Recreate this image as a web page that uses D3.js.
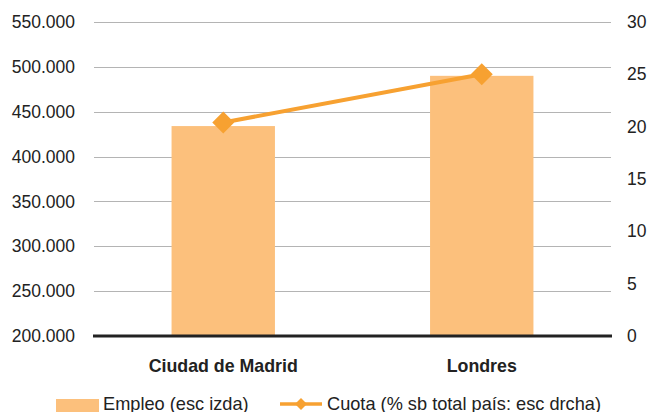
<!DOCTYPE html>
<html>
<head>
<meta charset="utf-8">
<script src="https://cdn.jsdelivr.net/npm/d3@7"></script>
<style>
  html, body { margin: 0; padding: 0; background: #fff; }
  svg { display: block; font-family: "Liberation Sans", Arial, Helvetica, sans-serif; }
</style>
</head>
<body>
<svg id="chart" width="650" height="412"></svg>
<script>
// Employment (left axis) and share of national total (right axis)
const categories = ["Ciudad de Madrid", "Londres"];
const empleo = [434000, 490000];
const cuota = [20.4, 25.0];
const leftTicks = [200000, 250000, 300000, 350000, 400000, 450000, 500000, 550000];
const rightTicks = [0, 5, 10, 15, 20, 25, 30];
const legendLabels = ["Empleo (esc izda)", "Cuota (% sb total país: esc drcha)"];

const barColor = "#fcc07c";
const lineColor = "#f7a131";

const svg = d3.select("#chart");
const margin = { left: 94, right: 611, top: 22, bottom: 336 };

const x = d3.scaleBand()
  .domain(categories)
  .range([margin.left, margin.right])
  .paddingInner(0.6)
  .paddingOuter(0.3);

const yLeft = d3.scaleLinear().domain([200000, 550000]).range([margin.bottom, margin.top]);
const yRight = d3.scaleLinear().domain([0, 30]).range([margin.bottom, margin.top]);

const esLocale = d3.formatLocale({ decimal: ",", thousands: ".", grouping: [3], currency: ["", "€"] });
const fmtThousands = esLocale.format(",");

// Gridlines
svg.append("g")
  .selectAll("line")
  .data(leftTicks.filter(t => t !== 200000))
  .join("line")
  .attr("x1", margin.left)
  .attr("x2", margin.right)
  .attr("y1", d => Math.round(yLeft(d)) + 0.5)
  .attr("y2", d => Math.round(yLeft(d)) + 0.5)
  .attr("stroke", "#b4b4b4")
  .attr("stroke-width", 1);

// Left axis
const leftAxis = d3.axisLeft(yLeft).tickValues(leftTicks).tickSize(0).tickPadding(0)
  .tickFormat(fmtThousands);
const gL = svg.append("g").attr("transform", "translate(75,0)").call(leftAxis);
gL.select(".domain").remove();
gL.selectAll("text")
  .attr("font-size", 17.5)
  .attr("fill", "#222")
  .attr("font-family", "Liberation Sans, Arial, sans-serif");

// Right axis
const rightAxis = d3.axisRight(yRight).tickValues(rightTicks).tickSize(0).tickPadding(0);
const gR = svg.append("g").attr("transform", "translate(627,0)").call(rightAxis);
gR.select(".domain").remove();
gR.selectAll("text")
  .attr("font-size", 17.5)
  .attr("fill", "#222")
  .attr("font-family", "Liberation Sans, Arial, sans-serif");

// Bars
svg.append("g")
  .selectAll("rect")
  .data(categories)
  .join("rect")
  .attr("x", d => x(d))
  .attr("width", x.bandwidth())
  .attr("y", (d, i) => yLeft(empleo[i]))
  .attr("height", (d, i) => yLeft(200000) - yLeft(empleo[i]))
  .attr("fill", barColor);

// Baseline
svg.append("line")
  .attr("x1", margin.left - 1)
  .attr("x2", margin.right + 1)
  .attr("y1", yLeft(200000))
  .attr("y2", yLeft(200000))
  .attr("stroke", "#222")
  .attr("stroke-width", 3);

// Category labels
const gX = svg.append("g").attr("transform", `translate(0,${yLeft(200000)})`)
  .call(d3.axisBottom(x).tickSize(0).tickPadding(0));
gX.select(".domain").remove();
gX.selectAll("text")
  .attr("dy", null)
  .attr("y", 36)
  .attr("font-size", 17.8)
  .attr("font-weight", "bold")
  .attr("fill", "#222")
  .attr("font-family", "Liberation Sans, Arial, sans-serif");

// Share line
const pts = categories.map((c, i) => [x(c) + x.bandwidth() / 2, yRight(cuota[i])]);
svg.append("path")
  .attr("d", d3.line()(pts))
  .attr("fill", "none")
  .attr("stroke", lineColor)
  .attr("stroke-width", 4);

const diamond = (cx, cy, r) => `M${cx},${cy - r}L${cx + r},${cy}L${cx},${cy + r}L${cx - r},${cy}Z`;
svg.append("g")
  .selectAll("path")
  .data(pts)
  .join("path")
  .attr("d", d => diamond(d[0], d[1], 11))
  .attr("fill", lineColor);

// Legend
const lg = svg.append("g");
lg.append("rect").attr("x", 56).attr("y", 399).attr("width", 43).attr("height", 13).attr("fill", barColor);
lg.append("text").attr("x", 103).attr("y", 410).text(legendLabels[0])
  .attr("font-size", 18.2).attr("fill", "#222");
lg.append("line").attr("x1", 280).attr("x2", 322).attr("y1", 404).attr("y2", 404)
  .attr("stroke", lineColor).attr("stroke-width", 3.5);
lg.append("path").attr("d", diamond(301, 404, 6)).attr("fill", lineColor);
lg.append("text").attr("x", 327).attr("y", 410).text(legendLabels[1])
  .attr("font-size", 18.2).attr("fill", "#222");
</script>
</body>
</html>
